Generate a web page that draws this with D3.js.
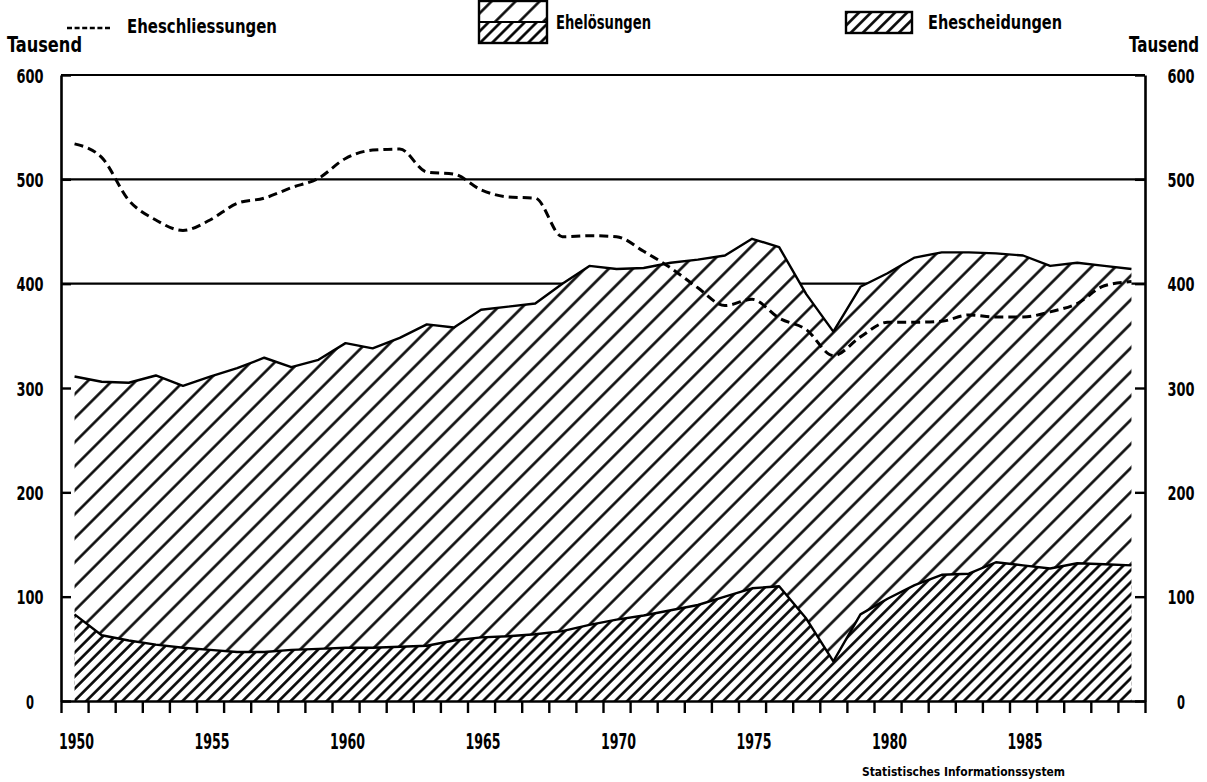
<!DOCTYPE html>
<html>
<head>
<meta charset="utf-8">
<script src="https://cdn.jsdelivr.net/npm/d3@7"></script>
<style>
  html, body { margin: 0; padding: 0; background: #fff; }
  svg { display: block; }
  text { font-family: "DejaVu Sans Condensed", "DejaVu Sans", sans-serif; font-stretch: condensed; font-weight: bold; fill: #000; }
</style>
</head>
<body>
<svg id="chart" width="1207" height="782"></svg>
<script>
// ---- data (Tausend) ----
const years = [1950,1951,1952,1953,1954,1955,1956,1957,1958,1959,
               1960,1961,1962,1963,1964,1965,1966,1967,1968,1969,
               1970,1971,1972,1973,1974,1975,1976,1977,1978,1979,
               1980,1981,1982,1983,1984,1985,1986,1987,1988,1989];
const eheschliessungen = [534,521,480,461,451,461,477,482,492,501,
                          520,528,529,507,505,490,483,482,445,446,
                          445,431,415,396,379,385,367,356,331,349,
                          363,363,364,370,368,368,373,381,398,402];
const eheloesungen = [311,306,305,312,302,311,319,329,320,327,
                      343,338,348,361,358,375,378,381,400,417,
                      414,415,420,423,427,443,435,390,354,397,
                      410,425,430,430,429,427,417,420,417,414];
const ehescheidungen = [83,63,58,54,51,49,47,47,49,50,
                        51,51,52,53,58,61,62,64,67,73,
                        78,82,87,92,100,108,110,79,38,83,
                        98,111,121,122,133,130,127,132,131,130];
const yTicks = [0,100,200,300,400,500,600];
const gridValues = [400,500,600];
const yearLabels = [1950,1955,1960,1965,1970,1975,1980,1985];
const legendLabels = ["Eheschliessungen","Ehelösungen","Ehescheidungen"];
const unitLabel = "Tausend";
const sourceLabel = "Statistisches Informationssystem";

// ---- layout ----
const svg = d3.select("#chart");
const L = 61, R = 1145, B = 701, T = 75;
const x = d3.scaleLinear().domain([years[0]-0.5, years[years.length-1]+0.5]).range([L, R]);
const y = d3.scaleLinear().domain([0, 600]).range([B, T]);

// patterns
const defs = svg.append("defs");
function hatch(id, s, w) {
  const p = defs.append("pattern").attr("id", id)
    .attr("patternUnits", "userSpaceOnUse")
    .attr("width", s).attr("height", s)
    .attr("patternTransform", "rotate(45)");
  p.append("rect").attr("width", s).attr("height", s).attr("fill", "#fff");
  p.append("line").attr("x1", s/2).attr("x2", s/2).attr("y1", -1).attr("y2", s+1)
    .attr("stroke", "#000").attr("stroke-width", w);
}
hatch("wide", 17, 2.5);
hatch("dense", 8.5, 2.6);

// gridlines
svg.append("g").selectAll("line").data(gridValues).join("line")
  .attr("x1", L).attr("x2", R)
  .attr("y1", d => y(d)).attr("y2", d => y(d))
  .attr("stroke", "#000").attr("stroke-width", 2.2);

// areas
const idx = years.map((d,i) => i);
const areaTotal = d3.area().x(i => x(years[i])).y0(y(0)).y1(i => y(eheloesungen[i])).curve(d3.curveLinear);
const areaDiv = d3.area().x(i => x(years[i])).y0(y(0)).y1(i => y(ehescheidungen[i])).curve(d3.curveLinear);
svg.append("path").datum(idx).attr("d", areaTotal).attr("fill", "url(#wide)");
svg.append("path").datum(idx).attr("d", areaDiv).attr("fill", "url(#dense)");

// outlines
const lineTotal = d3.line().x(i => x(years[i])).y(i => y(eheloesungen[i])).curve(d3.curveLinear);
const lineDiv = d3.line().x(i => x(years[i])).y(i => y(ehescheidungen[i])).curve(d3.curveLinear);
const lineMar = d3.line().x(i => x(years[i])).y(i => y(eheschliessungen[i])).curve(d3.curveMonotoneX);
svg.append("path").datum(idx).attr("d", lineTotal).attr("fill", "none").attr("stroke", "#000").attr("stroke-width", 2.4).attr("stroke-linejoin", "round");
svg.append("path").datum(idx).attr("d", lineDiv).attr("fill", "none").attr("stroke", "#000").attr("stroke-width", 2.4).attr("stroke-linejoin", "round");
svg.append("path").datum(idx).attr("d", lineMar).attr("fill", "none").attr("stroke", "#000")
  .attr("stroke-width", 3).attr("stroke-dasharray", "9,5");

// x axis (ticks at year boundaries)
const bounds = years.map(d => d - 0.5).concat([years[years.length-1] + 0.5]);
const xAxis = svg.append("g").attr("transform", `translate(0,${B})`)
  .call(d3.axisBottom(x).tickValues(bounds).tickSize(12).tickSizeOuter(0).tickFormat(""));
xAxis.select(".domain").attr("stroke", "#000").attr("stroke-width", 2.6);
xAxis.selectAll(".tick line").attr("stroke", "#000").attr("stroke-width", 2.4);

svg.append("g").selectAll("text").data(yearLabels).join("text")
  .attr("x", d => x(d) + 2 - 17.5).attr("y", 749)
  .attr("font-size", 21)
  .attr("textLength", 35).attr("lengthAdjust", "spacingAndGlyphs")
  .text(d => d);

// y axes
function yAxis(side) {
  const gx = side === "left" ? L : R;
  const cx = side === "left" ? 30 : 1181;
  const ax = side === "left" ? d3.axisLeft(y) : d3.axisRight(y);
  const g = svg.append("g").attr("transform", `translate(${gx},0)`)
    .call(ax.tickValues(yTicks).tickSize(-10).tickSizeOuter(0).tickFormat(d3.format("d")));
  g.attr("font-family", null).attr("font-size", null);
  g.select(".domain").attr("stroke", "#000").attr("stroke-width", 2.6);
  g.selectAll(".tick line").attr("stroke", "#000").attr("stroke-width", 2.4);
  g.selectAll(".tick text")
    .attr("dy", null).attr("dominant-baseline", "central")
    .attr("font-size", 20)
    .attr("text-anchor", "start")
    .each(function(d) {
      const w = d === 0 ? 8 : 27;
      d3.select(this).attr("x", cx - gx - w/2).attr("textLength", w).attr("lengthAdjust", "spacingAndGlyphs");
    });
}
yAxis("left");
yAxis("right");

svg.append("text").attr("x", 7).attr("y", 52).attr("font-size", 21)
  .attr("textLength", 75).attr("lengthAdjust", "spacingAndGlyphs").text(unitLabel);
svg.append("text").attr("transform", "translate(1199,52) scale(0.84,1.05)")
  .attr("x", 0).attr("y", 0).attr("font-size", 20).attr("text-anchor", "end")
  .text(unitLabel);

// legend
svg.append("line").attr("x1", 67).attr("x2", 111).attr("y1", 28).attr("y2", 28)
  .attr("stroke", "#000").attr("stroke-width", 2.6).attr("stroke-dasharray", "5,2.6");
svg.append("text").attr("x", 127).attr("y", 33).attr("font-size", 20)
  .attr("textLength", 150).attr("lengthAdjust", "spacingAndGlyphs").text(legendLabels[0]);

svg.append("rect").attr("x", 479).attr("y", 1).attr("width", 68).attr("height", 21).attr("fill", "url(#wide)");
svg.append("rect").attr("x", 479).attr("y", 22).attr("width", 68).attr("height", 21).attr("fill", "url(#dense)");
svg.append("rect").attr("x", 479).attr("y", 1).attr("width", 68).attr("height", 42)
  .attr("fill", "none").attr("stroke", "#000").attr("stroke-width", 2.4);
svg.append("line").attr("x1", 479).attr("x2", 547).attr("y1", 22).attr("y2", 22)
  .attr("stroke", "#000").attr("stroke-width", 2.2);
svg.append("text").attr("x", 556).attr("y", 29).attr("font-size", 20)
  .attr("textLength", 95).attr("lengthAdjust", "spacingAndGlyphs").text(legendLabels[1]);

svg.append("rect").attr("x", 846).attr("y", 12).attr("width", 66).attr("height", 21)
  .attr("fill", "url(#dense)").attr("stroke", "#000").attr("stroke-width", 2.4);
svg.append("text").attr("x", 928).attr("y", 29).attr("font-size", 20)
  .attr("textLength", 134).attr("lengthAdjust", "spacingAndGlyphs").text(legendLabels[2]);

svg.append("text").attr("x", 862).attr("y", 776)
  .attr("font-size", 12).attr("textLength", 203).attr("lengthAdjust", "spacingAndGlyphs")
  .text(sourceLabel);
</script>
</body>
</html>
